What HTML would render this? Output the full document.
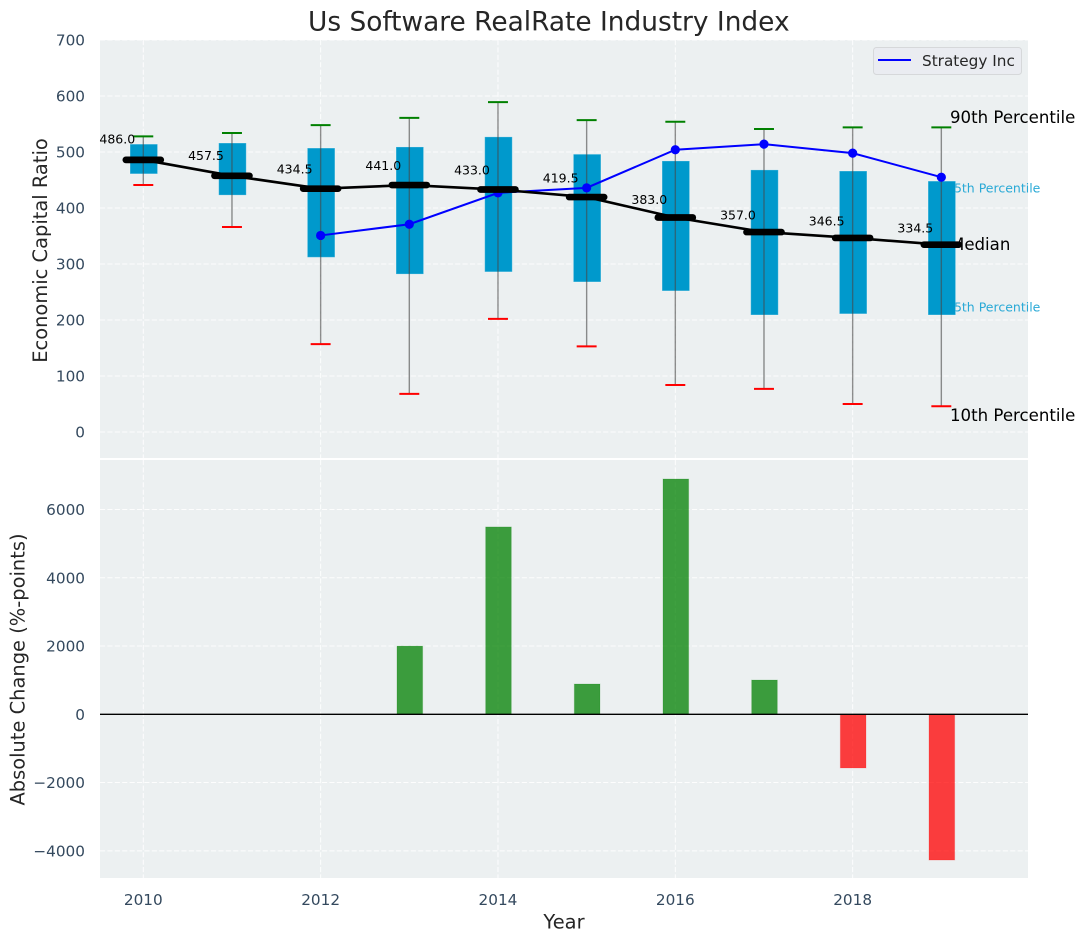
<!DOCTYPE html>
<html lang="en">
<head>
<meta charset="utf-8">
<title>Us Software RealRate Industry Index</title>
<style>
html,body{margin:0;padding:0;background:#fff;width:1085px;height:942px;overflow:hidden}
svg{display:block}
text{font-family:"DejaVu Sans","Liberation Sans",sans-serif}
</style>
</head>
<body>
<svg id="chart" xmlns="http://www.w3.org/2000/svg" width="1085" height="942" viewBox="0 0 1085 942">
  <defs>
    <clipPath id="clip-top"><rect x="100" y="40" width="928" height="418"/></clipPath>
    <clipPath id="clip-bottom"><rect x="100" y="460" width="928" height="418"/></clipPath>
  </defs>
  <rect x="0" y="0" width="1085" height="942" fill="#ffffff"/>
  <rect x="100" y="40" width="928" height="418" fill="#ecf0f1"/>
  <rect x="100" y="460" width="928" height="418" fill="#ecf0f1"/>
  <g id="grid-layer"></g>
  <g id="tick-layer"></g>
  <g>
    <text x="950" y="123" font-size="16.6" fill="#000000">90th Percentile</text>
    <text x="946" y="192.5" font-size="12.5" fill="#29a9d6">75th Percentile</text>
    <text x="950" y="250" font-size="16.6" fill="#000000">Median</text>
    <text x="946" y="311.5" font-size="12.5" fill="#29a9d6">25th Percentile</text>
    <text x="950" y="421" font-size="16.6" fill="#000000">10th Percentile</text>
  </g>
  <g id="box-layer"></g>
  <g id="whisker-layer"></g>
  <g id="strategy-layer"></g>
  <g id="median-layer"></g>
  <g id="change-layer" clip-path="url(#clip-bottom)"></g>
  <line x1="100" x2="1028" y1="714.3" y2="714.3" stroke="#000000" stroke-width="1.3"/>
  <text x="308" y="30.5" font-size="26.4" fill="#262626">Us Software RealRate Industry Index</text>
  <text transform="translate(47,250.5) rotate(-90)" text-anchor="middle" font-size="19.44" fill="#262626">Economic Capital Ratio</text>
  <text transform="translate(24.5,669.5) rotate(-90)" text-anchor="middle" font-size="19.44" fill="#262626">Absolute Change (%-points)</text>
  <text x="564" y="928.5" text-anchor="middle" font-size="19.44" fill="#262626">Year</text>
  <g>
    <rect x="873.5" y="47.5" width="148" height="27" rx="3" fill="#eaecf1" stroke="#d6d8da" stroke-width="1"/>
    <line x1="878" x2="911" y1="60" y2="60" stroke="#0000ff" stroke-width="2"/>
    <text x="922" y="66" font-size="15.28" fill="#262626">Strategy Inc</text>
  </g>
</svg>
<script>
const years = [2010, 2011, 2012, 2013, 2014, 2015, 2016, 2017, 2018, 2019];
const p90Values = [528, 534, 548, 561, 589, 557, 554, 541, 544, 544];
const p75Values = [514, 516, 507, 509, 527, 496, 484, 468, 466, 448];
const medianValues = [486.0, 457.5, 434.5, 441.0, 433.0, 419.5, 383.0, 357.0, 346.5, 334.5];
const p25Values = [461, 423, 312, 282, 286, 268, 252, 209, 211, 209];
const p10Values = [441, 366, 157, 68, 202, 153, 84, 77, 50, 46];
const strategyYears = [2012, 2013, 2014, 2015, 2016, 2017, 2018, 2019];
const strategyValues = [351, 371, 427, 436, 504, 514, 498, 455];
const changeYears = [2013, 2014, 2015, 2016, 2017, 2018, 2019];
const changeValues = [2000, 5490, 888, 6895, 1005, -1573, -4270];
const xTicks = [2010, 2012, 2014, 2016, 2018];
const topTicks = [0, 100, 200, 300, 400, 500, 600, 700];
const bottomTicks = [-4000, -2000, 0, 2000, 4000, 6000];

const SVG_NS = 'http://www.w3.org/2000/svg';
const YEAR_PX = 88.67;
const xScale = function (year) { return 143.3 + (year - 2010) * YEAR_PX; };
const yTop = function (value) { return 432 - value * 0.56; };
const yBottom = function (value) { return 714.3 - value * 0.03413; };
const YEAR_BOX = 0.31;
const YEAR_BAR = 0.29;
const YEAR_CAP = 0.225;
const YEAR_MEDIAN = 0.197;
const GRID_DASH = '5.1 2.3';
const GRID_WIDTH = 1;
const GRID_OPACITY = 0.9;

function mk(parentId, tag, props) {
  const el = document.createElementNS(SVG_NS, tag);
  Object.keys(props).forEach(function (k) { el.setAttribute(k, props[k]); });
  document.getElementById(parentId).appendChild(el);
  return el;
}

/* grid */
xTicks.forEach(function (t) {
  let el = mk('grid-layer', 'line', {x1: xScale(t), x2: xScale(t), y1: 40, y2: 458, stroke: '#ffffff', 'stroke-width': GRID_WIDTH, 'stroke-dasharray': GRID_DASH, opacity: GRID_OPACITY});
  
  
  el = mk('grid-layer', 'line', {x1: xScale(t), x2: xScale(t), y1: 460, y2: 878, stroke: '#ffffff', 'stroke-width': GRID_WIDTH, 'stroke-dasharray': GRID_DASH, opacity: GRID_OPACITY});
  
  
  el = mk('tick-layer', 'text', {x: xScale(t), y: 904.8, 'text-anchor': 'middle', 'font-size': 15.28, fill: '#34495e'});
  el.textContent = String(t);
  
  
});
topTicks.forEach(function (t) {
  let el = mk('grid-layer', 'line', {x1: 100, x2: 1028, y1: yTop(t), y2: yTop(t), stroke: '#ffffff', 'stroke-width': GRID_WIDTH, 'stroke-dasharray': GRID_DASH, opacity: GRID_OPACITY});
  
  
  el = mk('tick-layer', 'text', {x: 85, y: yTop(t) + 5.5, 'text-anchor': 'end', 'font-size': 15.28, fill: '#34495e'});
  el.textContent = String(t);
  
  
});
bottomTicks.forEach(function (t) {
  let el = mk('grid-layer', 'line', {x1: 100, x2: 1028, y1: yBottom(t), y2: yBottom(t), stroke: '#ffffff', 'stroke-width': GRID_WIDTH, 'stroke-dasharray': GRID_DASH, opacity: GRID_OPACITY});
  
  
  el = mk('tick-layer', 'text', {x: 85, y: yBottom(t) + 5.5, 'text-anchor': 'end', 'font-size': 15.28, fill: '#34495e'});
  el.textContent = String(t).replace('-', '\u2212');
  
  
});

/* percentile boxes, whiskers and caps */
years.forEach(function (year, i) {
  const cx = xScale(year);
  const halfBox = YEAR_BOX * YEAR_PX / 2;
  const halfCap = YEAR_CAP * YEAR_PX / 2;
  let el = mk('box-layer', 'rect', {x: cx - halfBox + 0.5, y: yTop(p75Values[i]), width: halfBox * 2, height: yTop(p25Values[i]) - yTop(p75Values[i]), fill: '#0099cc', stroke: '#ffffff', 'stroke-opacity': 0.25, 'stroke-width': 1});
  
  
  el = mk('whisker-layer', 'line', {x1: cx, x2: cx, y1: yTop(p90Values[i]), y2: yTop(p10Values[i]), stroke: '#464646', 'stroke-opacity': 0.6, 'stroke-width': 1.4});
  
  
  el = mk('whisker-layer', 'line', {x1: cx - halfCap, x2: cx + halfCap, y1: yTop(p90Values[i]), y2: yTop(p90Values[i]), stroke: '#008000', 'stroke-width': 2});
  
  
  el = mk('whisker-layer', 'line', {x1: cx - halfCap, x2: cx + halfCap, y1: yTop(p10Values[i]), y2: yTop(p10Values[i]), stroke: '#ff0000', 'stroke-width': 2});
  
  
});

/* strategy line */
const strategyPoints = strategyYears.map(function (year, i) { return xScale(year) + ',' + yTop(strategyValues[i]); }).join(' ');
const strategyLine = mk('strategy-layer', 'polyline', {points: strategyPoints, fill: 'none', stroke: '#0000ff', 'stroke-width': 2});


strategyYears.forEach(function (year, i) {
  const el = mk('strategy-layer', 'circle', {cx: xScale(year), cy: yTop(strategyValues[i]), r: 4.6, fill: '#0000ff'});
  
  
});

/* median line, thick markers, value labels */
const medianPoints = years.map(function (year, i) { return xScale(year) + ',' + yTop(medianValues[i]); }).join(' ');
const medianLine = mk('median-layer', 'polyline', {points: medianPoints, fill: 'none', stroke: '#000000', 'stroke-width': 2.6});


years.forEach(function (year, i) {
  const cx = xScale(year);
  const cy = yTop(medianValues[i]);
  const half = YEAR_MEDIAN * YEAR_PX;
  let el = mk('median-layer', 'line', {x1: cx - half, x2: cx + half, y1: cy, y2: cy, stroke: '#000000', 'stroke-width': 6.7, 'stroke-linecap': 'round'});
  
  
  el = mk('median-layer', 'text', {x: cx - 26, y: yTop(medianValues[i] * 1.05 + 13) + 4.5, 'text-anchor': 'middle', 'font-size': 12.5, fill: '#000000'});
  el.textContent = medianValues[i].toFixed(1);
  
  
});

/* change bars */
changeYears.forEach(function (year, i) {
  const v = changeValues[i];
  const w = YEAR_BAR * YEAR_PX;
  const top = Math.min(yBottom(v), yBottom(0));
  const h = Math.abs(yBottom(v) - yBottom(0));
  const color = v >= 0 ? '#008000' : '#ff0000';
  const el = mk('change-layer', 'rect', {x: xScale(year) - w / 2 + 0.5, y: top, width: w, height: h, fill: color, 'fill-opacity': 0.75, stroke: color, 'stroke-opacity': 0.15, 'stroke-width': 1});
  
  
});
</script>
</body>
</html>
